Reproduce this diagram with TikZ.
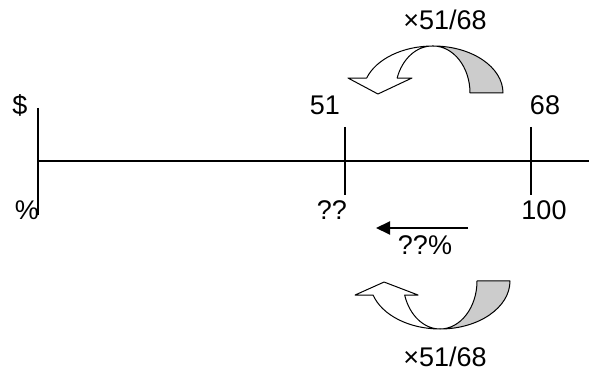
\documentclass[tikz,border=0pt]{standalone}
\usepackage{fontspec}
\setmainfont{Liberation Sans}
\usepackage{tikz}
\usetikzlibrary{arrows.meta}
\tikzset{
  nl/axis/.style={line width=1.5pt},
  nl/tick/.style={line width=1.5pt},
  nl/label/.style={inner sep=0pt, font=\fontsize{27}{30}\selectfont},
  nl/face/.style={draw, fill=white, line width=1pt, line join=round},
  nl/back/.style={nl/face, fill=black!20},
  nl/pointer/.style={line width=2pt, -{Triangle[length=14pt,width=13pt]}}
}

\begin{document}
\begin{tikzpicture}[x=1pt, y=1pt]
  \useasboundingbox (0,0) rectangle (589,374);

  % number line
  \coordinate (zero) at (38,213);
  \coordinate (far) at (589,213);
  \coordinate (ztop) at (38,266);
  \coordinate (zbot) at (38,159);
  \coordinate (t51a) at (345,247);
  \coordinate (t51b) at (345,179);
  \coordinate (t68a) at (531,247);
  \coordinate (t68b) at (531,179);
  \draw[nl/axis] (zero) -- (far);
  \draw[nl/axis] (ztop) -- (zbot);
  \draw[nl/tick] (t51a) -- (t51b);
  \draw[nl/tick] (t68a) -- (t68b);

  \node[nl/label] (dollar) at (20,269) {\$};
  \node[nl/label] (pct) at (27,164) {\%};
  \node[nl/label] (v51) at (325,269) {51};
  \node[nl/label] (v68) at (545,269) {68};
  \node[nl/label] (unk) at (332,164) {??};
  \node[nl/label] (v100) at (544,164) {100};

  % going back
  \coordinate (pfrom) at (468,146);
  \coordinate (pto) at (376,146);
  \draw[nl/pointer] (pfrom) -- (pto);
  \node[nl/label] (rate) at (425,129) {??\%};

  % upper turn
  \coordinate (tc) at (433,281);
  \draw[nl/back] ([yshift=47pt]tc) arc[start angle=90, end angle=0, x radius=70pt, y radius=47pt]
    -- ++(-33,0) arc[start angle=0, end angle=90, x radius=37pt, y radius=47pt] -- cycle;
  \draw[nl/face] ([yshift=47pt]tc) arc[start angle=90, end angle=161.4, x radius=70pt, y radius=47pt]
    -- ++(-18.7,0) -- ++(30,-16) -- ++(34,16) -- ++(-14.8,0)
    arc[start angle=161.4, end angle=90, x radius=37pt, y radius=47pt] -- cycle;
  \node[nl/label] (multtop) at (445,354) {×51/68};

  % lower turn
  \coordinate (bc) at (440,93);
  \draw[nl/back] ([yshift=-48pt]bc) arc[start angle=270, end angle=360, x radius=70pt, y radius=48pt]
    -- ++(-33,0) arc[start angle=360, end angle=270, x radius=37pt, y radius=48pt] -- cycle;
  \draw[nl/face] ([yshift=-48pt]bc) arc[start angle=270, end angle=197, x radius=70pt, y radius=48pt]
    -- ++(-18,0) -- ++(29,13) -- ++(34,-13) -- ++(-13.4,0)
    arc[start angle=197, end angle=270, x radius=37pt, y radius=48pt] -- cycle;
  \node[nl/label] (multbot) at (445,17) {×51/68};
\end{tikzpicture}
\end{document}
